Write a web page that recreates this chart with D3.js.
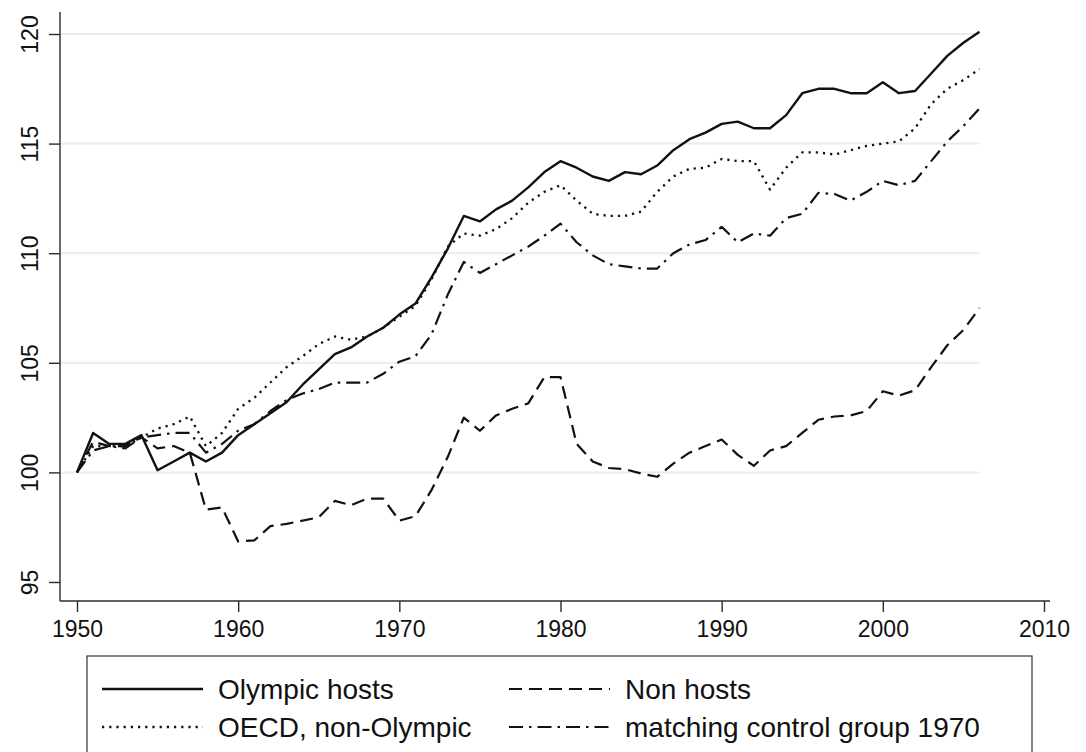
<!DOCTYPE html>
<html lang="en">
<head>
    <meta charset="UTF-8">
    <title>Olympic hosts vs. comparison groups</title>
    <script src="https://d3js.org/d3.v7.min.js"></script>
    <style>
        body {
            margin: 0;
            background: #fff;
        }

        svg {
            display: block;
            font-family: Arial, "Liberation Sans", sans-serif;
        }

        .axis-line, .tick-mark {
            stroke: #2b2b2b;
            stroke-width: 1.4;
        }

        .grid-line {
            stroke: #e5eef1;
            stroke-width: 2;
        }

        .tick-label {
            font-size: 23px;
            fill: #111;
        }

        .legend-label {
            font-size: 28px;
            fill: #111;
        }

        .series {
            fill: none;
            stroke: #111;
            stroke-linejoin: round;
        }
    </style>
</head>
<body>
    <svg id="chart" width="1086" height="752"></svg>
    <script>
        // years on the x axis
        const years = [
            1950, 1951, 1952, 1953, 1954, 1955, 1956, 1957, 1958, 1959,
            1960, 1961, 1962, 1963, 1964, 1965, 1966, 1967, 1968, 1969,
            1970, 1971, 1972, 1973, 1974, 1975, 1976, 1977, 1978, 1979,
            1980, 1981, 1982, 1983, 1984, 1985, 1986, 1987, 1988, 1989,
            1990, 1991, 1992, 1993, 1994, 1995, 1996, 1997, 1998, 1999,
            2000, 2001, 2002, 2003, 2004, 2005, 2006
        ];

        const olympicHosts = [
            100.0, 101.8, 101.3, 101.3, 101.7, 100.1, 100.5, 100.9, 100.5, 100.9,
            101.7, 102.2, 102.7, 103.2, 104.0, 104.7, 105.4, 105.7, 106.2, 106.6,
            107.2, 107.7, 108.9, 110.2, 111.7, 111.45, 112.0, 112.4, 113.0, 113.7,
            114.2, 113.9, 113.5, 113.3, 113.7, 113.6, 114.0, 114.7, 115.2, 115.5,
            115.9, 116.0, 115.7, 115.7, 116.3, 117.3, 117.5, 117.5, 117.3, 117.3,
            117.8, 117.3, 117.4, 118.2, 119.0, 119.6, 120.1
        ];

        const nonHosts = [
            100.0, 101.4, 101.2, 101.2, 101.6, 101.1, 101.2, 100.9, 98.3, 98.4,
            96.85, 96.9, 97.55, 97.65, 97.8, 97.95, 98.7, 98.5, 98.8, 98.8,
            97.8, 98.0, 99.2, 100.7, 102.5, 101.9, 102.6, 102.9, 103.15, 104.35,
            104.35, 101.3, 100.5, 100.2, 100.15, 99.95, 99.8, 100.4, 100.9, 101.2,
            101.5, 100.8, 100.3, 101.0, 101.2, 101.8, 102.4, 102.55, 102.6, 102.8,
            103.7, 103.5, 103.75, 104.8, 105.8, 106.5, 107.5
        ];

        const oecdNonOlympic = [
            100.0, 101.2, 101.2, 101.2, 101.6, 102.0, 102.2, 102.55, 101.2, 101.8,
            102.9, 103.4, 104.1, 104.8, 105.3, 105.85, 106.2, 106.05, 106.2, 106.6,
            107.1, 107.6, 108.8, 110.3, 110.9, 110.8, 111.1, 111.6, 112.3, 112.8,
            113.1, 112.4, 111.8, 111.7, 111.7, 111.9, 112.8, 113.5, 113.85, 113.9,
            114.3, 114.2, 114.2, 112.9, 113.9, 114.6, 114.6, 114.5, 114.7, 114.9,
            115.0, 115.1, 115.7, 116.8, 117.5, 117.9, 118.4
        ];

        const matchingControl1970 = [
            100.0, 101.0, 101.2, 101.1, 101.6, 101.7, 101.8, 101.8, 100.9, 101.3,
            101.9, 102.2, 102.8, 103.3, 103.6, 103.8, 104.1, 104.1, 104.1, 104.5,
            105.05, 105.3, 106.3, 108.1, 109.6, 109.1, 109.5, 109.9, 110.3, 110.8,
            111.35, 110.5, 109.9, 109.5, 109.4, 109.3, 109.3, 110.0, 110.4, 110.6,
            111.2, 110.5, 110.9, 110.8, 111.6, 111.8, 112.75, 112.7, 112.4, 112.8,
            113.3, 113.1, 113.3, 114.2, 115.1, 115.8, 116.6
        ];

        const xTicks = [1950, 1960, 1970, 1980, 1990, 2000, 2010];
        const yTicks = [95, 100, 105, 110, 115, 120];
        const gridTicks = [100, 105, 110, 115, 120];

        const seriesNames = ['Olympic hosts', 'Non hosts', 'OECD, non-Olympic', 'matching control group 1970'];

        // line styles, keyed by series name
        const styles = {
            'Olympic hosts': { dash: null, width: 2.4 },
            'Non hosts': { dash: '13,7', width: 2.2 },
            'OECD, non-Olympic': { dash: '2.2,5', width: 2.3 },
            'matching control group 1970': { dash: '14,6,2.5,6', width: 2.2 }
        };

        const seriesValues = {
            'Olympic hosts': olympicHosts,
            'Non hosts': nonHosts,
            'OECD, non-Olympic': oecdNonOlympic,
            'matching control group 1970': matchingControl1970
        };

        const svg = d3.select('#chart');

        const x = d3.scaleLinear().domain([1950, 2010]).range([77, 1044]);
        const y = d3.scaleLinear().domain([95, 120]).range([582, 34]);

        const axisX = 60;      // where the y axis sits
        const axisY = 601;     // where the x axis sits

        // grid
        svg.append('g')
            .selectAll('line')
            .data(gridTicks)
            .enter().append('line')
            .attr('class', 'grid-line')
            .attr('x1', axisX + 1)
            .attr('x2', x(2006))
            .attr('y1', d => y(d))
            .attr('y2', d => y(d));

        // y axis
        const yAxis = svg.append('g')
            .attr('transform', `translate(${axisX},0)`)
            .call(d3.axisLeft(y).tickValues(yTicks).tickSize(11).tickPadding(0).tickSizeOuter(0));
        yAxis.select('.domain').remove();
        yAxis.selectAll('.tick line').attr('class', 'tick-mark');
        yAxis.selectAll('.tick text')
            .attr('class', 'tick-label')
            .attr('text-anchor', 'middle')
            .attr('x', null)
            .attr('dy', null)
            .attr('transform', 'translate(-22,0) rotate(-90)');

        svg.append('line')
            .attr('class', 'axis-line')
            .attr('x1', axisX).attr('x2', axisX)
            .attr('y1', 12).attr('y2', axisY);

        // x axis
        const xAxis = svg.append('g')
            .attr('transform', `translate(0,${axisY})`)
            .call(d3.axisBottom(x).tickValues(xTicks).tickFormat(d3.format('d')).tickSize(11).tickPadding(9).tickSizeOuter(0));
        xAxis.select('.domain').remove();
        xAxis.selectAll('.tick line').attr('class', 'tick-mark');
        xAxis.selectAll('.tick text').attr('class', 'tick-label').attr('dy', '0.71em');

        svg.append('line')
            .attr('class', 'axis-line')
            .attr('x1', axisX).attr('x2', 1050)
            .attr('y1', axisY).attr('y2', axisY);

        // series
        const line = d3.line()
            .x((d, i) => x(years[i]))
            .y(d => y(d));

        seriesNames.forEach(name => {
            svg.append('path')
                .datum(seriesValues[name])
                .attr('class', 'series')
                .attr('stroke-width', styles[name].width)
                .attr('stroke-dasharray', styles[name].dash)
                .attr('d', line);
        });

        // legend
        const legend = svg.append('g');
        legend.append('rect')
            .attr('x', 87).attr('y', 656)
            .attr('width', 945).attr('height', 130)
            .attr('fill', '#fff')
            .attr('stroke', '#333')
            .attr('stroke-width', 1.2);

        const legendCols = [102, 509];
        const legendRows = [689, 727];

        seriesNames.forEach((name, i) => {
            const lx = legendCols[i % 2];
            const ly = legendRows[Math.floor(i / 2)];
            legend.append('line')
                .attr('x1', lx).attr('x2', lx + 101)
                .attr('y1', ly).attr('y2', ly)
                .attr('stroke', '#111')
                .attr('stroke-width', styles[name].width)
                .attr('stroke-dasharray', styles[name].dash);
            legend.append('text')
                .attr('class', 'legend-label')
                .attr('x', lx + 116)
                .attr('y', ly + 10)
                .text(name);
        });
    </script>
</body>
</html>
